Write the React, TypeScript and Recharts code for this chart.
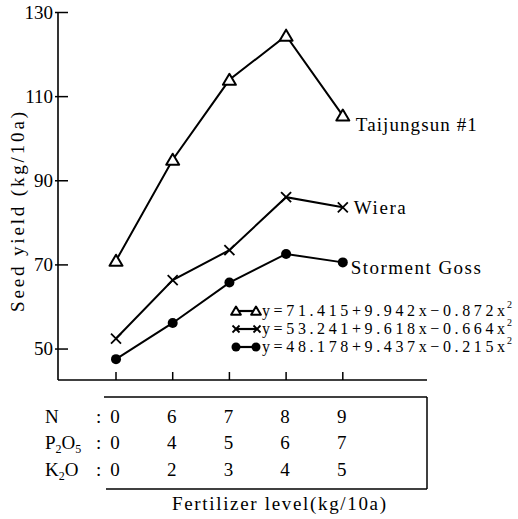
import React from 'react';
import { LineChart, Line, XAxis, YAxis, Customized, LabelList } from 'recharts';

const levels = [0, 1, 2, 3, 4];
const nLevels = [0, 6, 7, 8, 9];
const p2o5Levels = [0, 4, 5, 6, 7];
const k2oLevels = [0, 2, 3, 4, 5];
const taijungsun = [71, 95, 114, 124.5, 105.5];
const wiera = [52.5, 66.4, 73.5, 86.1, 83.7];
const stormentGoss = [47.6, 56.2, 65.8, 72.6, 70.6];
const yTicks = [50, 70, 90, 110, 130];
const seriesNames = ['Taijungsun  #1', 'Wiera', 'Storment  Goss'];
const equations = [
  'y=71.415+9.942x\u22120.872x',
  'y=53.241+9.618x\u22120.664x',
  'y=48.178+9.437x\u22120.215x',
];
const rowLabels = ['N', 'P2O5', 'K2O'];
const xTitle = 'Fertilizer level(kg/10a)';
const yTitle = 'Seed  yield (kg/10a)';

const data = levels.map((lv, i) => ({ lv, t: taijungsun[i], w: wiera[i], s: stormentGoss[i] }));

const FONT = 'Liberation Serif';

const Tri = ({ cx, cy, s = 1 }: any) => (
  <path
    d={`M${cx},${cy - 6 * s} L${cx + 6.5 * s},${cy + 5 * s} L${cx - 6.5 * s},${cy + 5 * s} Z`}
    fill="#fff"
    stroke="#000"
    strokeWidth={2}
    strokeLinejoin="round"
  />
);
const Cross = ({ cx, cy, s = 5 }: any) => (
  <g stroke="#000" strokeWidth={1.8}>
    <line x1={cx - s} y1={cy - s} x2={cx + s} y2={cy + s} />
    <line x1={cx - s} y1={cy + s} x2={cx + s} y2={cy - s} />
  </g>
);
const Dot = ({ cx, cy, r = 5 }: any) => <circle cx={cx} cy={cy} r={r} fill="#000" />;

const YTick = ({ x, y, payload }: any) => (
  <g>
    <line x1={x - 3} x2={x + 10} y1={y} y2={y} stroke="#000" strokeWidth={1.5} />
    <text x={x - 5} y={y + 6} textAnchor="end" fontFamily={FONT} fontSize={19} fill="#000">
      {payload.value}
    </text>
  </g>
);

const rowBase = [423, 449, 476];
const XTick = ({ x, y, payload }: any) => {
  const i = payload.value as number;
  const vals = [nLevels[i], p2o5Levels[i], k2oLevels[i]];
  return (
    <g>
      <line x1={x} x2={x} y1={y} y2={y - 8} stroke="#000" strokeWidth={1.5} />
      {vals.map((v, k) => (
        <text key={k} x={x - 1} y={rowBase[k]} textAnchor="middle" fontFamily={FONT} fontSize={19} fill="#000">
          {v}
        </text>
      ))}
    </g>
  );
};

const makeLabel = (name: string, dx: number, dy: number, len: number) => (props: any) => {
  if (props.index !== 4) return null;
  const x = props.x ?? props.viewBox?.x;
  const y = props.y ?? props.viewBox?.y;
  return (
    <text x={x + dx} y={y + dy} fontFamily={FONT} fontSize={19} fill="#000" textLength={len} lengthAdjust="spacing">
      {name}
    </text>
  );
};

const Chem = ({ label }: { label: string }) => {
  const parts = label.match(/[A-Z][a-z]?|\d+/g) || [];
  return (
    <>
      {parts.map((p, i) =>
        /\d/.test(p) ? (
          <tspan key={i} fontSize={12} dy={4}>{p}</tspan>
        ) : (
          <tspan key={i} dy={i > 0 && /\d/.test(parts[i - 1]) ? -4 : 0}>{p}</tspan>
        )
      )}
    </>
  );
};

const legendRows = [311, 329, 347];
const Decor = () => (
  <g>
    <line x1={104} y1={397} x2={427} y2={397} stroke="#000" strokeWidth={1.5} />
    <line x1={427} y1={397} x2={427} y2={489} stroke="#000" strokeWidth={1.5} />
    <line x1={106} y1={489} x2={427} y2={489} stroke="#000" strokeWidth={1.5} />
    {rowLabels.map((l, k) => (
      <g key={l}>
        <text x={45} y={rowBase[k]} fontFamily={FONT} fontSize={19} fill="#000">
          <Chem label={l} />
        </text>
        <text x={96} y={rowBase[k]} fontFamily={FONT} fontSize={19} fill="#000">:</text>
      </g>
    ))}
    <text x={172} y={510} fontFamily={FONT} fontSize={19} fill="#000" textLength={214} lengthAdjust="spacing">{xTitle}</text>
    <text
      x={17}
      y={212}
      fontFamily={FONT}
      fontSize={19}
      fill="#000"
      textAnchor="middle"
      dominantBaseline="central"
      transform="rotate(-90, 17, 212)"
      textLength={200}
      lengthAdjust="spacing"
    >
      {yTitle}
    </text>
    {legendRows.map((cy, k) => (
      <g key={k}>
        <line x1={236} x2={256} y1={cy} y2={cy} stroke="#000" strokeWidth={2.2} />
        {k === 0 && (<><Tri cx={236} cy={cy} s={0.75} /><Tri cx={256} cy={cy} s={0.75} /></>)}
        {k === 1 && (<><Cross cx={236} cy={cy} s={3.5} /><Cross cx={257} cy={cy} s={3.5} /></>)}
        {k === 2 && (<><Dot cx={236} cy={cy} r={4.5} /><Dot cx={256} cy={cy} r={4.5} /></>)}
        <text x={262} y={cy + 5} fontFamily={FONT} fontSize={16} fill="#000" textLength={243} lengthAdjust="spacing">
          {equations[k]}
        </text>
        <text x={507} y={cy - 3} fontFamily={FONT} fontSize={10} fill="#000">2</text>
      </g>
    ))}
  </g>
);

export default function App() {
  return (
    <div style={{ position: 'absolute', left: 0, top: 0, background: '#fff' }}>
      <LineChart
        width={518}
        height={519}
        data={data}
        margin={{ top: 12.5, right: 91, bottom: 0, left: 0 }}
      >
        <XAxis
          dataKey="lv"
          type="number"
          domain={[-1.023, 5.485]}
          ticks={levels}
          interval={0}
          allowDataOverflow
          height={139}
          tickSize={0}
          tickMargin={0}
          tickLine={false}
          axisLine={{ stroke: '#000', strokeWidth: 1.6 }}
          tick={(p: any) => <XTick {...p} />}
        />
        <YAxis
          type="number"
          domain={[42.64, 130]}
          ticks={yTicks}
          interval={0}
          allowDataOverflow
          width={58}
          tickSize={0}
          tickMargin={0}
          tickLine={false}
          axisLine={{ stroke: '#000', strokeWidth: 1.6 }}
          tick={(p: any) => <YTick {...p} />}
        />
        <Line
          dataKey="t"
          stroke="#000"
          strokeWidth={2}
          isAnimationActive={false}
          dot={(p: any) => <Tri key={`t${p.index}`} cx={p.cx} cy={p.cy} />}
        >
          <LabelList dataKey="t" content={makeLabel(seriesNames[0], 13, 15, 121)} />
        </Line>
        <Line
          dataKey="w"
          stroke="#000"
          strokeWidth={2}
          isAnimationActive={false}
          dot={(p: any) => <Cross key={`w${p.index}`} cx={p.cx} cy={p.cy} />}
        >
          <LabelList dataKey="w" content={makeLabel(seriesNames[1], 11, 7, 52)} />
        </Line>
        <Line
          dataKey="s"
          stroke="#000"
          strokeWidth={2}
          isAnimationActive={false}
          dot={(p: any) => <Dot key={`s${p.index}`} cx={p.cx} cy={p.cy} />}
        >
          <LabelList dataKey="s" content={makeLabel(seriesNames[2], 8, 12, 130)} />
        </Line>
        <Customized component={<Decor />} />
      </LineChart>
    </div>
  );
}
